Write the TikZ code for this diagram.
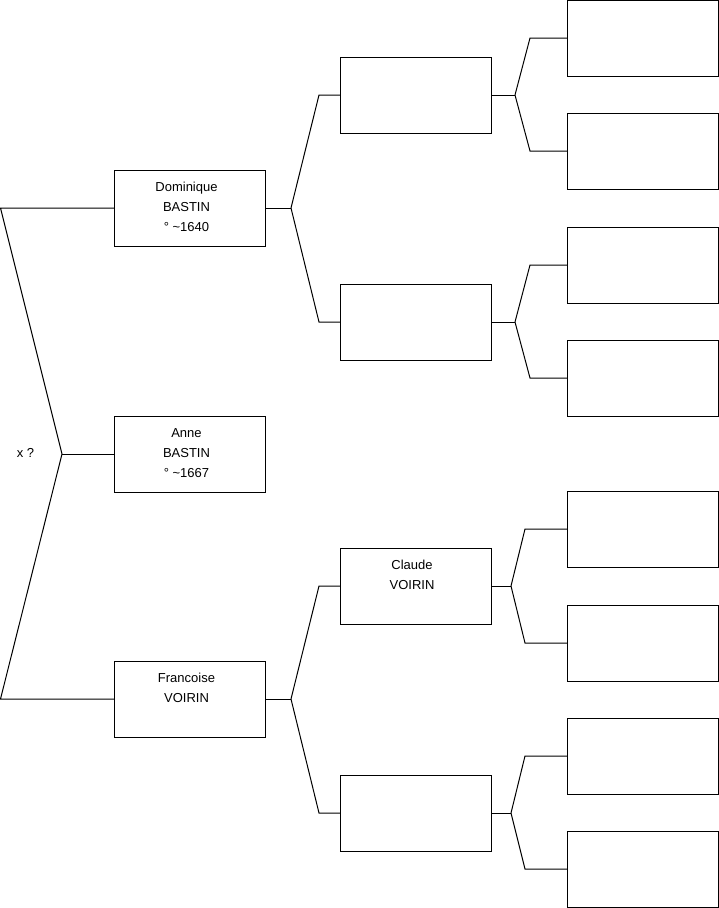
\documentclass[tikz,border=0pt]{standalone}
\usepackage{fontspec}
\setmainfont{Liberation Sans}
\begin{document}
\begin{tikzpicture}[x=1pt,y=-1pt,line width=1pt,
  box/.style={draw=black,minimum width=151pt,minimum height=76pt,inner sep=0pt,outer sep=0pt},
  txt/.style={anchor=north,inner sep=0pt,align=center,font=\fontsize{13pt}{20pt}\selectfont},
  conn/.style={draw=black,line width=1pt}]
\useasboundingbox (0,0) rectangle (719,908);
% level 1
\node[box] (d) at (189.5,208) {};
\node[box] (a) at (189.5,454) {};
\node[box] (f) at (189.5,699) {};
% level 2
\node[box] (p1) at (415.5,95) {};
\node[box] (p2) at (415.5,322) {};
\node[box] (p3) at (415.5,586) {};
\node[box] (p4) at (415.5,813) {};
% level 3
\node[box] (g1) at (642.5,38) {};
\node[box] (g2) at (642.5,151) {};
\node[box] (g3) at (642.5,265) {};
\node[box] (g4) at (642.5,378) {};
\node[box] (g5) at (642.5,529) {};
\node[box] (g6) at (642.5,643) {};
\node[box] (g7) at (642.5,756) {};
\node[box] (g8) at (642.5,869) {};
% texts
\node[txt] (dt) at ([xshift=-3pt,yshift=-12pt]d.north) {Dominique\\BASTIN\\° \textasciitilde1640};
\node[txt] (at) at ([xshift=-3pt,yshift=-12pt]a.north) {Anne\\BASTIN\\° \textasciitilde1667};
\node[txt] (ft) at ([xshift=-3pt,yshift=-12pt]f.north) {Francoise\\VOIRIN};
\node[txt] (ct) at ([xshift=-3.5pt,yshift=-12pt]p3.north) {Claude\\VOIRIN};
\node[font=\fontsize{13pt}{15pt}\selectfont,inner sep=0pt] (xq) at (25.5,453) {x ?};
% root connectors
\coordinate (rA) at (0.5,208);
\coordinate (rB) at (0.5,699);
\coordinate (j0) at (62,454);
\draw[conn] (d.west) -- (rA) -- (j0) -- (rB) -- (f.west);
\draw[conn] (j0) -- (a.west);
% level 1 -> 2
\coordinate (jd) at (291,208);
\coordinate (e1) at (319,95);
\coordinate (e2) at (319,322);
\draw[conn] (d.east) -- (jd);
\draw[conn] (jd) -- (e1) -- (p1.west);
\draw[conn] (jd) -- (e2) -- (p2.west);
\coordinate (jf) at (291,699);
\coordinate (e3) at (319,586);
\coordinate (e4) at (319,813);
\draw[conn] (f.east) -- (jf);
\draw[conn] (jf) -- (e3) -- (p3.west);
\draw[conn] (jf) -- (e4) -- (p4.west);
% level 2 -> 3
\coordinate (k1) at (515,95);
\coordinate (h1) at (530,38);
\coordinate (h2) at (530,151);
\draw[conn] (p1.east) -- (k1);
\draw[conn] (k1) -- (h1) -- (g1.west);
\draw[conn] (k1) -- (h2) -- (g2.west);
\coordinate (k2) at (515,322);
\coordinate (h3) at (530,265);
\coordinate (h4) at (530,378);
\draw[conn] (p2.east) -- (k2);
\draw[conn] (k2) -- (h3) -- (g3.west);
\draw[conn] (k2) -- (h4) -- (g4.west);
\coordinate (k3) at (511,586);
\coordinate (h5) at (525,529);
\coordinate (h6) at (525,643);
\draw[conn] (p3.east) -- (k3);
\draw[conn] (k3) -- (h5) -- (g5.west);
\draw[conn] (k3) -- (h6) -- (g6.west);
\coordinate (k4) at (511,813);
\coordinate (h7) at (525,756);
\coordinate (h8) at (525,869);
\draw[conn] (p4.east) -- (k4);
\draw[conn] (k4) -- (h7) -- (g7.west);
\draw[conn] (k4) -- (h8) -- (g8.west);
\end{tikzpicture}
\end{document}
